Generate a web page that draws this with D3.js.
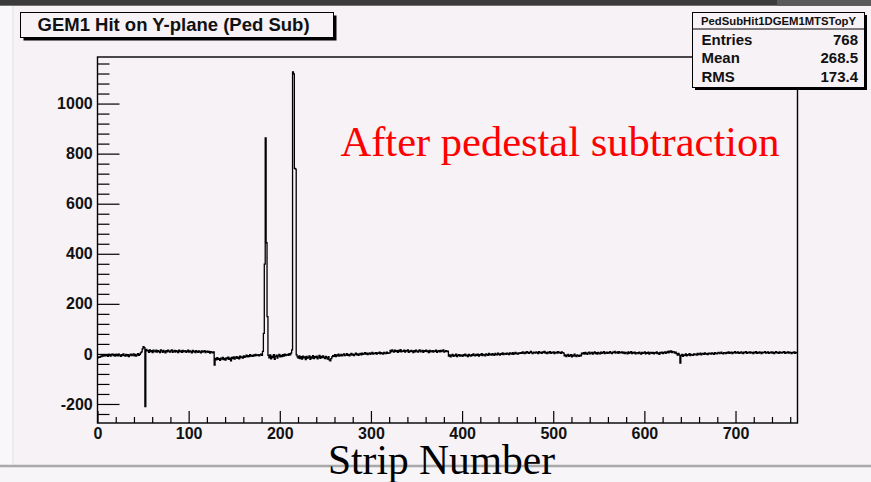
<!DOCTYPE html>
<html>
<head>
<meta charset="utf-8">
<script src="https://cdn.jsdelivr.net/npm/d3@7/dist/d3.min.js"></script>
<style>
  html, body { margin: 0; padding: 0; background: #f6f2f6; }
  svg { display: block; }
</style>
</head>
<body>
<script>
// Pedestal-subtracted ADC per strip, GEM1 Y-plane, strips 0..767
const stripCounts = [
  -16,-12,-14,-9,-11,-6,-9,-4,-8,-3,-7,-10,-2,-6,-9,-3,
  -1,-7,-4,-9,-2,-6,-8,-1,-5,-10,-3,-7,0,-6,-9,-2,
  -8,-3,-11,-5,-1,-7,-4,0,-8,-2,-9,-4,1,-6,-2,4,
  8,20,29,25,-210,18,12,14,6,16,9,13,5,15,11,8,
  15,7,13,10,5,16,12,6,14,9,4,13,8,15,11,7,
  12,16,6,11,14,7,13,10,5,15,9,12,6,14,8,11,
  13,6,10,15,7,12,9,4,14,8,11,5,13,9,6,12,
  8,4,12,7,10,13,5,9,11,6,10,3,9,7,4,8,
  -45,-18,-24,-15,-22,-19,-26,-17,-21,-14,-23,-18,-25,-16,-20,-13,
  -22,-17,-28,-14,-19,-12,-21,-16,-11,-18,-13,-20,-9,-15,-12,-17,
  -8,-14,-10,-5,-12,-7,-11,-3,-9,-6,-10,-4,-8,-2,-7,-5,
  -3,-8,-4,-1,-6,10,82,359,863,444,149,-6,-16,-4,-20,-9,
  -15,-3,-22,-10,-5,-17,-8,-2,-12,-6,-11,-3,-9,-1,-7,-4,
  -2,-6,1,-4,3,16,1126,1118,741,738,-4,-12,-17,-8,-19,-11,
  -21,-9,-16,-12,-23,-10,-18,-14,-8,-22,-12,-17,-7,-19,-11,-15,
  -9,-20,-13,-6,-18,-10,-15,-8,-14,-19,-10,-16,-21,-11,-24,-28,
  -19,-12,-7,-10,-3,-11,-4,-8,-1,-9,-6,-2,-8,-4,0,-7,
  -5,1,-6,-2,-8,-3,2,-5,-1,-7,-2,3,-4,0,-6,-1,
  2,-4,3,-2,0,5,-1,3,-3,1,4,-2,2,6,-1,3,
  1,5,-1,4,2,7,0,5,2,-1,6,3,1,7,2,4,
  3,14,8,16,11,7,15,10,13,6,14,9,17,8,12,10,
  15,7,13,11,16,6,12,9,14,10,5,13,8,15,11,7,
  12,16,8,11,14,6,13,10,15,9,12,5,14,8,11,13,
  7,12,10,15,6,11,13,8,14,9,12,16,7,10,13,9,
  11,-9,-4,-12,-6,-2,-10,-5,-8,-1,-11,-6,-3,-9,-4,-7,
  -10,-3,-7,-1,-8,-5,-11,-2,-6,-9,-3,-7,0,-5,-8,-2,
  -6,-1,-9,-3,-5,1,-7,-2,-4,-8,0,-3,-6,2,-4,-1,
  -5,1,-3,-6,2,-2,-4,3,-1,-5,1,-2,4,-3,0,2,
  -2,3,0,-3,4,1,-1,5,-2,2,6,0,3,-1,4,2,
  5,2,8,4,1,7,3,9,5,2,6,10,4,1,7,5,
  3,8,5,1,9,4,6,2,8,5,10,3,6,1,7,4,
  9,2,6,4,8,1,5,7,3,9,4,6,2,8,5,3,
  -8,-4,-11,-6,-2,-10,-7,-3,-12,-5,-9,-1,-8,-11,-4,-7,
  -10,-5,-8,3,0,5,-1,6,2,-2,4,7,0,3,6,-1,
  4,8,1,5,-1,6,3,0,7,2,5,9,1,4,7,2,
  6,3,9,4,1,7,5,10,3,6,8,2,9,5,4,8,
  3,7,1,6,4,0,8,2,5,9,1,6,3,7,0,4,
  5,1,7,3,-1,6,2,4,8,0,5,2,7,-1,4,6,
  2,6,0,5,3,8,1,4,-2,6,3,7,1,5,8,2,
  6,10,4,11,7,12,5,9,8,3,7,1,-5,2,-4,-37,
  -7,-2,-10,-4,-6,0,-8,-3,-5,1,-7,-2,-4,-6,0,-3,
  -1,-5,2,-3,-1,3,-4,0,2,-2,4,-1,1,-3,3,0,
  3,-1,4,1,-2,5,2,0,4,6,1,3,7,2,0,5,
  4,1,6,3,8,2,5,7,1,6,4,9,3,5,8,2,
  6,3,8,4,1,7,5,9,2,6,4,8,3,7,5,1,
  7,4,9,2,6,3,8,5,1,7,4,6,9,3,5,8,
  2,6,4,8,3,7,1,5,9,4,6,2,8,5,3,7,
  5,9,2,6,4,8,3,7,5,1,6,4,8,2,6,5
];

const xMajorTicks = [0, 100, 200, 300, 400, 500, 600, 700];
const yMajorTicks = [-200, 0, 200, 400, 600, 800, 1000];
const statLabels = ["Entries", "Mean", "RMS"];
const statValues = ["768", "268.5", "173.4"];
const histTitle = "GEM1 Hit on Y-plane (Ped Sub)";
const histName = "PedSubHit1DGEM1MTSTopY";

const W = 871, H = 482;
const frame = { left: 97.5, right: 797.5, top: 57, bottom: 423 };
const nBins = stripCounts.length;

const svg = d3.select("body").append("svg")
  .attr("width", W).attr("height", H)
  .style("font-family", "'Liberation Sans', Arial, Helvetica, sans-serif");

// canvas background and window edges
svg.append("rect").attr("width", W).attr("height", H).attr("fill", "#f6f2f6");
svg.append("rect").attr("x", 0).attr("y", 0).attr("width", 13).attr("height", 466).attr("fill", "#f9f7f9");
svg.append("line").attr("x1", 13).attr("x2", 13).attr("y1", 6).attr("y2", 466)
  .attr("stroke", "#e4e0e4").attr("stroke-width", 1);
svg.append("rect").attr("x", 0).attr("y", 0).attr("width", W).attr("height", 5.7).attr("fill", "#3b3b3b");
svg.append("rect").attr("x", 777).attr("y", 0).attr("width", W - 777).attr("height", 5.7).attr("fill", "#5a5a5a");
svg.append("rect").attr("x", 0).attr("y", 467).attr("width", W).attr("height", H - 467).attr("fill", "#f7f5f7");
svg.append("line").attr("x1", 0).attr("x2", W).attr("y1", 466).attr("y2", 466)
  .attr("stroke", "#a9a9a9").attr("stroke-width", 2.5);

const x = d3.scaleLinear().domain([0, nBins]).range([frame.left, frame.right]);
const y = d3.scaleLinear().domain([-276, 1186]).range([frame.bottom, frame.top]);

// minor ticks (inward)
const xMinor = d3.range(0, nBins + 1, 20).filter(v => v % 100 !== 0);
const yMinor = d3.range(-240, 1186, 40).filter(v => v % 200 !== 0);

const plainNum = d => String(d);
const axisFont = g => g.selectAll("text")
  .attr("font-size", 16).attr("font-weight", "bold").attr("fill", "#111")
  .attr("font-family", "'Liberation Sans', Arial, sans-serif");

svg.append("g").attr("transform", `translate(0,${frame.bottom})`)
  .call(d3.axisBottom(x).tickValues(xMinor).tickSize(-6).tickFormat(""))
  .call(g => g.select(".domain").remove())
  .call(g => g.selectAll("line").attr("stroke", "#000").attr("stroke-width", 1.2));
svg.append("g").attr("transform", `translate(0,${frame.bottom})`)
  .call(d3.axisBottom(x).tickValues(xMajorTicks).tickSize(-12).tickPadding(4.6).tickFormat(plainNum))
  .call(g => g.select(".domain").remove())
  .call(g => g.selectAll("line").attr("stroke", "#000").attr("stroke-width", 1.2))
  .call(axisFont);

svg.append("g").attr("transform", `translate(${frame.left},0)`)
  .call(d3.axisLeft(y).tickValues(yMinor).tickSize(-12).tickFormat(""))
  .call(g => g.select(".domain").remove())
  .call(g => g.selectAll("line").attr("stroke", "#000").attr("stroke-width", 1.2));
svg.append("g").attr("transform", `translate(${frame.left},0)`)
  .call(d3.axisLeft(y).tickValues(yMajorTicks).tickSize(-22).tickPadding(4.8).tickFormat(plainNum))
  .call(g => g.select(".domain").remove())
  .call(g => g.selectAll("line").attr("stroke", "#000").attr("stroke-width", 1.2))
  .call(axisFont);

// frame
svg.append("rect")
  .attr("x", frame.left).attr("y", frame.top)
  .attr("width", frame.right - frame.left).attr("height", frame.bottom - frame.top)
  .attr("fill", "none").attr("stroke", "#000").attr("stroke-width", 1.4);

// histogram drawn as a step outline across bins
const stepPts = [];
stripCounts.forEach((v, i) => { stepPts.push([i, v]); stepPts.push([i + 1, v]); });
const stepLine = d3.line().x(d => x(d[0])).y(d => y(d[1]));
svg.append("path")
  .attr("d", stepLine(stepPts))
  .attr("fill", "none").attr("stroke", "#000").attr("stroke-width", 1.3)
  .attr("stroke-linejoin", "miter");

// title box with drop shadow
const tb = { x: 20.5, y: 12.5, w: 313, h: 25 };
svg.append("rect").attr("x", tb.x + 3).attr("y", tb.y + 3).attr("width", tb.w).attr("height", tb.h).attr("fill", "#000");
svg.append("rect").attr("x", tb.x).attr("y", tb.y).attr("width", tb.w).attr("height", tb.h)
  .attr("fill", "#f6f2f6").attr("stroke", "#000").attr("stroke-width", 1);
svg.append("text").attr("x", 37.5).attr("y", 31)
  .attr("font-size", 18.5).attr("font-weight", "bold").attr("fill", "#111")
  .text(histTitle);

// statistics box
const sb = { x: 692.5, y: 12.5, w: 172, h: 75 };
svg.append("rect").attr("x", sb.x + 2.5).attr("y", sb.y + 2.5).attr("width", sb.w).attr("height", sb.h).attr("fill", "#000");
svg.append("rect").attr("x", sb.x).attr("y", sb.y).attr("width", sb.w).attr("height", sb.h)
  .attr("fill", "#f6f2f6").attr("stroke", "#000").attr("stroke-width", 1);
svg.append("line").attr("x1", sb.x).attr("x2", sb.x + sb.w).attr("y1", 29).attr("y2", 29)
  .attr("stroke", "#000").attr("stroke-width", 1);
svg.append("text").attr("x", sb.x + sb.w / 2).attr("y", 25)
  .attr("text-anchor", "middle").attr("font-size", 11).attr("font-weight", "bold").attr("fill", "#111")
  .attr("textLength", 155).attr("lengthAdjust", "spacingAndGlyphs")
  .text(histName);
const rowY = [45, 63.3, 81.5];
statLabels.forEach((lab, i) => {
  svg.append("text").attr("x", 701.5).attr("y", rowY[i])
    .attr("font-size", 15).attr("font-weight", "bold").attr("fill", "#111").text(lab);
  svg.append("text").attr("x", 858).attr("y", rowY[i]).attr("text-anchor", "end")
    .attr("font-size", 15).attr("font-weight", "bold").attr("fill", "#111").text(statValues[i]);
});

// annotation and axis caption
svg.append("text").attr("x", 340.5).attr("y", 156)
  .attr("font-family", "'Liberation Serif', 'Times New Roman', serif")
  .attr("font-size", 42.5).attr("fill", "#ff0000")
  .text("After pedestal subtraction");
svg.append("text").attr("x", 328).attr("y", 474)
  .attr("font-family", "'Liberation Serif', 'Times New Roman', serif")
  .attr("font-size", 41.5).attr("fill", "#000")
  .text("Strip Number");
</script>
</body>
</html>
